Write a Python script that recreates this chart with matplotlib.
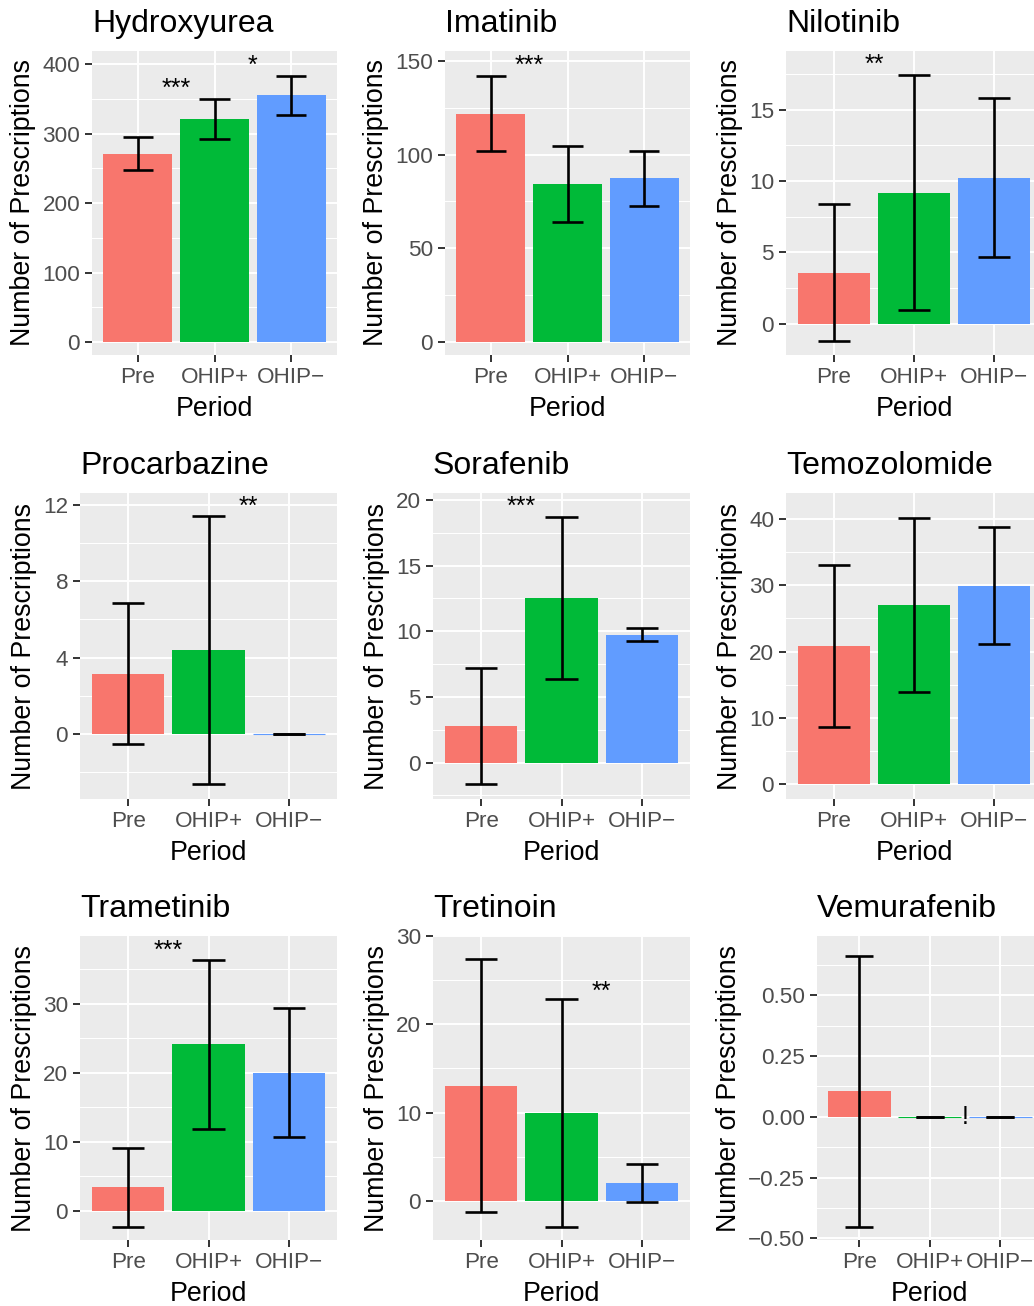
import matplotlib
matplotlib.use("Agg")
import matplotlib.pyplot as plt
from matplotlib.ticker import FixedLocator, FuncFormatter
import numpy as np

plt.rcParams['font.family'] = ['Liberation Sans', 'DejaVu Sans']
plt.rcParams['axes.unicode_minus'] = True

# ---- data -------------------------------------------------------------
drugs = ["Hydroxyurea", "Imatinib", "Nilotinib",
         "Procarbazine", "Sorafenib", "Temozolomide",
         "Trametinib", "Tretinoin", "Vemurafenib"]
periods = ["Pre", "OHIP+", "OHIP\u2212"]

# mean number of prescriptions per period
mean_pre = [270.5, 121.8, 3.56, 3.14, 2.80, 20.8, 3.47, 13.03, 0.106]
mean_plus = [321.0, 84.4, 9.18, 4.40, 12.53, 27.0, 24.16, 9.95, 0.0]
mean_minus = [355.0, 87.5, 10.2, 0.0, 9.71, 29.9, 19.97, 1.98, 0.0]

# lower / upper confidence limits
low_pre = [247.5, 101.7, -1.24, -0.52, -1.65, 8.69, -2.27, -1.29, -0.453]
low_plus = [292.0, 63.8, 0.95, -2.62, 6.36, 13.87, 11.91, -2.96, 0.0]
low_minus = [327.0, 72.7, 4.68, 0.0, 9.25, 21.15, 10.71, -0.15, 0.0]
high_pre = [294.5, 142.0, 8.39, 6.86, 7.22, 33.0, 9.16, 27.45, 0.66]
high_plus = [350.0, 104.7, 17.4, 11.41, 18.7, 40.1, 36.36, 22.9, 0.0]
high_minus = [383.0, 102.2, 15.8, 0.0, 10.24, 38.8, 29.33, 4.18, 0.0]

# significance markers: drug, gap after period index (1 = Pre|OHIP+), height, label
sig_drug = ["Hydroxyurea", "Hydroxyurea", "Imatinib", "Nilotinib", "Procarbazine",
            "Sorafenib", "Trametinib", "Tretinoin", "Vemurafenib"]
sig_gap = [1, 2, 1, 1, 2, 1, 1, 2, 2]
sig_y = [364, 398, 147.6, 18.1, 11.9, 19.5, 37.7, 23.7, 0.0]
sig_text = ["***", "*", "***", "**", "**", "***", "***", "**", "!"]

# ---- styling / layout -------------------------------------------------
fill_colors = ["#F8766D", "#00BA38", "#619CFF"]
y_limits = [(-18.7, 419), (-7.1, 155.4), (-2.19, 19.1),
            (-3.39, 12.61), (-2.77, 20.53), (-2.2, 43.87),
            (-4.2, 39.8), (-4.48, 30.05), (-0.507, 0.744)]
y_step = [100, 50, 5, 4, 5, 10, 10, 10, 0.25]

W, H = 1034, 1306
panel_left = [92, 445, 786, 80, 433, 786, 80, 433, 817]
col_right = [337, 690, 1042.5]   # third column runs past the canvas edge
row_top = [51, 493, 936]
row_bottom = [355, 799, 1240]

fig = plt.figure(figsize=(W / 100, H / 100), dpi=100)
fig.patch.set_facecolor("white")

for i, drug in enumerate(drugs):
    r, c = divmod(i, 3)
    L, R = panel_left[i], col_right[c]
    T, B = row_top[r], row_bottom[r]
    ax = fig.add_axes([L / W, 1 - B / H, (R - L) / W, (B - T) / H])
    ax.set_facecolor("#EBEBEB")
    for s in ax.spines.values():
        s.set_visible(False)

    x = np.arange(1, 4)
    means = [mean_pre[i], mean_plus[i], mean_minus[i]]
    lows = [low_pre[i], low_plus[i], low_minus[i]]
    highs = [high_pre[i], high_plus[i], high_minus[i]]

    ax.bar(x, means, width=0.9, color=fill_colors, edgecolor=fill_colors,
           linewidth=[0.8 if m == 0 else 0 for m in means], zorder=2)
    ax.vlines(x, lows, highs, color="black", linewidth=1.9, zorder=3)
    ax.hlines(lows, x - 0.2, x + 0.2, color="black", linewidth=1.9, zorder=3)
    ax.hlines(highs, x - 0.2, x + 0.2, color="black", linewidth=1.9, zorder=3)

    for d, g, yv, t in zip(sig_drug, sig_gap, sig_y, sig_text):
        if d == drug:
            ax.text(g + 0.5, yv, t, ha="center", va="center", fontsize=18,
                    color="black", zorder=4)

    lo, hi = y_limits[i]
    ax.set_xlim(0.4, 3.6)
    ax.set_ylim(lo, hi)
    step = y_step[i]
    majors = np.round(np.arange(np.ceil(lo / step) * step, hi + 1e-9, step), 6) + 0.0
    minors = np.arange(np.ceil((lo - step / 2) / step) * step + step / 2, hi + 1e-9, step)
    minors = minors[(minors > lo) & (minors < hi)]
    ax.yaxis.set_major_locator(FixedLocator(majors))
    ax.yaxis.set_minor_locator(FixedLocator(minors))
    if step < 1:
        fmt = FuncFormatter(lambda v, p: f"{v + 0.0:.2f}".replace("-", "\u2212"))
    else:
        fmt = FuncFormatter(lambda v, p: f"{round(v) + 0:d}".replace("-", "\u2212"))
    ax.yaxis.set_major_formatter(fmt)
    ax.set_xticks(x)
    ax.set_xticklabels(periods)

    ax.set_axisbelow(True)
    ax.grid(which="major", color="white", linewidth=1.4)
    ax.grid(which="minor", axis="y", color="white", linewidth=0.75)
    ax.tick_params(which="major", length=5, width=1.4, color="#333333",
                   labelcolor="#4D4D4D", labelsize=16.2)
    ax.tick_params(axis="y", pad=3.5)
    ax.tick_params(axis="x", pad=3.5)
    ax.tick_params(which="minor", length=0)

    ax.set_xlabel("Period", fontsize=19.3, color="black", labelpad=6)
    ax.set_ylabel("Number of Prescriptions", fontsize=19.3, color="black", labelpad=4.5)
    ax.set_title(drug, loc="left", fontsize=23, color="black", pad=14)

fig.savefig("out.png", dpi=100, facecolor="white")
